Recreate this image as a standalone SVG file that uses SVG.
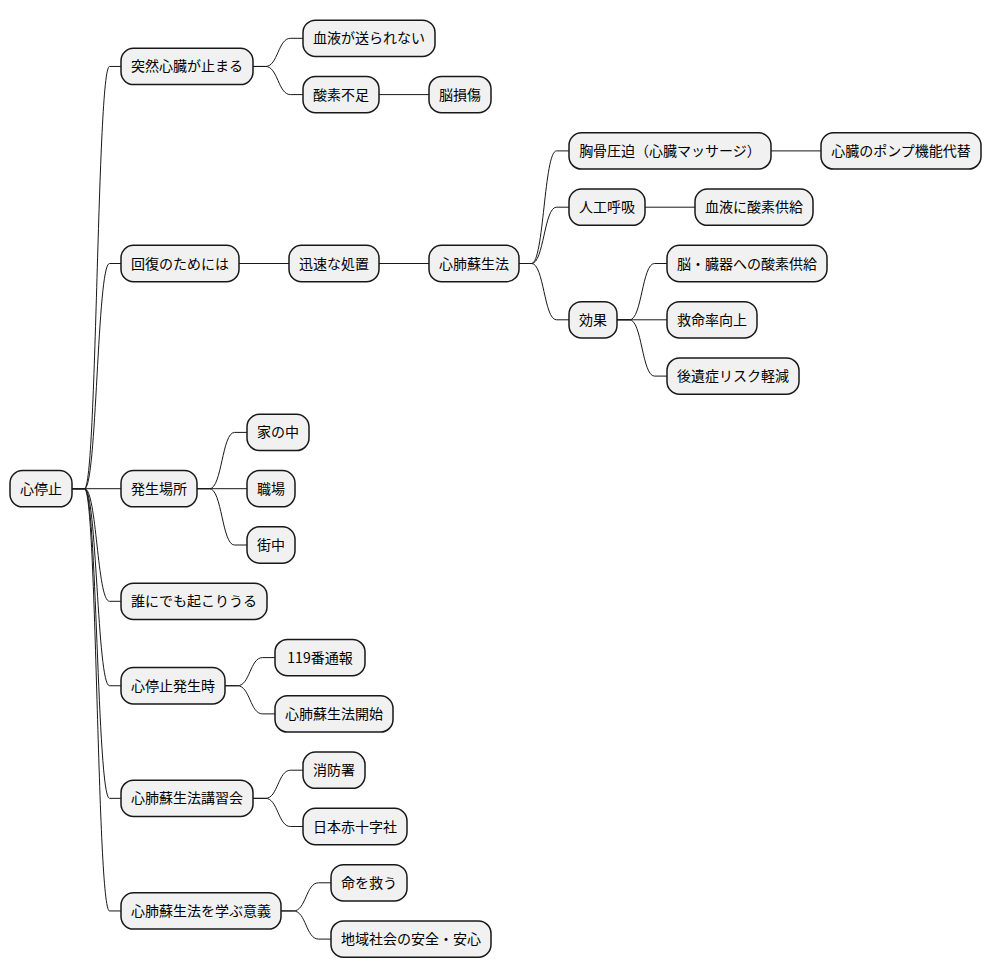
<svg xmlns="http://www.w3.org/2000/svg" width="992" height="978" viewBox="0 0 992 978">
<style>
.b{fill:#F1F1F1;stroke:#181818;stroke-width:1.5}
.t{font-family:"Noto Sans CJK JP","Noto Sans",sans-serif;font-size:14px;fill:#000;text-anchor:middle}
.c path{fill:none;stroke:#181818;stroke-width:1}
</style>
<rect width="992" height="978" fill="#FFFFFF"/>
<g class="c" id="connectors">
<path d="M72,488.7 L84.5,488.7 C97,488.7 97,66.45 109.5,66.45 L121,66.45"/>
<path d="M72,488.7 L84.5,488.7 C97,488.7 97,263.5 109.5,263.5 L121,263.5"/>
<path d="M72,488.7 L121,488.7"/>
<path d="M72,488.7 L84.5,488.7 C97,488.7 97,601.3 109.5,601.3 L121,601.3"/>
<path d="M72,488.7 L84.5,488.7 C97,488.7 97,685.75 109.5,685.75 L121,685.75"/>
<path d="M72,488.7 L84.5,488.7 C97,488.7 97,798.35 109.5,798.35 L121,798.35"/>
<path d="M72,488.7 L84.5,488.7 C97,488.7 97,910.95 109.5,910.95 L121,910.95"/>
<path d="M253,66.45 L265.5,66.45 C278,66.45 278,38.3 290.5,38.3 L303,38.3"/>
<path d="M253,66.45 L265.5,66.45 C278,66.45 278,94.6 290.5,94.6 L303,94.6"/>
<path d="M379,94.6 L429,94.6"/>
<path d="M239,263.5 L289,263.5"/>
<path d="M379,263.5 L429,263.5"/>
<path d="M519,263.5 L531.5,263.5 C544,263.5 544,150.9 556.5,150.9 L569,150.9"/>
<path d="M519,263.5 L531.5,263.5 C544,263.5 544,207.2 556.5,207.2 L569,207.2"/>
<path d="M519,263.5 L531.5,263.5 C544,263.5 544,319.8 556.5,319.8 L569,319.8"/>
<path d="M771,150.9 L821,150.9"/>
<path d="M645,207.2 L695,207.2"/>
<path d="M617,319.8 L629.5,319.8 C642,319.8 642,263.5 654.5,263.5 L667,263.5"/>
<path d="M617,319.8 L667,319.8"/>
<path d="M617,319.8 L629.5,319.8 C642,319.8 642,376.1 654.5,376.1 L667,376.1"/>
<path d="M197,488.7 L209.5,488.7 C222,488.7 222,432.4 234.5,432.4 L247,432.4"/>
<path d="M197,488.7 L247,488.7"/>
<path d="M197,488.7 L209.5,488.7 C222,488.7 222,545 234.5,545 L247,545"/>
<path d="M225,685.75 L237.5,685.75 C250,685.75 250,657.6 262.5,657.6 L275,657.6"/>
<path d="M225,685.75 L237.5,685.75 C250,685.75 250,713.9 262.5,713.9 L275,713.9"/>
<path d="M253,798.35 L265.5,798.35 C278,798.35 278,770.2 290.5,770.2 L303,770.2"/>
<path d="M253,798.35 L265.5,798.35 C278,798.35 278,826.5 290.5,826.5 L303,826.5"/>
<path d="M281,910.95 L293.5,910.95 C306,910.95 306,882.8 318.5,882.8 L331,882.8"/>
<path d="M281,910.95 L293.5,910.95 C306,910.95 306,939.1 318.5,939.1 L331,939.1"/>
</g>
<g id="n0"><rect class="b" x="10" y="470.55" width="62" height="36.3" rx="12.5"/><text class="t" x="41" y="493.7">心停止</text></g>
<g id="n1"><rect class="b" x="121" y="48.3" width="132" height="36.3" rx="12.5"/><text class="t" x="187" y="71.45">突然心臓が止まる</text></g>
<g id="n1a"><rect class="b" x="303" y="20.15" width="132" height="36.3" rx="12.5"/><text class="t" x="369" y="43.3">血液が送られない</text></g>
<g id="n1b"><rect class="b" x="303" y="76.45" width="76" height="36.3" rx="12.5"/><text class="t" x="341" y="99.6">酸素不足</text></g>
<g id="n1b1"><rect class="b" x="429" y="76.45" width="62" height="36.3" rx="12.5"/><text class="t" x="460" y="99.6">脳損傷</text></g>
<g id="n2"><rect class="b" x="121" y="245.35" width="118" height="36.3" rx="12.5"/><text class="t" x="180" y="268.5">回復のためには</text></g>
<g id="n2a"><rect class="b" x="289" y="245.35" width="90" height="36.3" rx="12.5"/><text class="t" x="334" y="268.5">迅速な処置</text></g>
<g id="n2a1"><rect class="b" x="429" y="245.35" width="90" height="36.3" rx="12.5"/><text class="t" x="474" y="268.5">心肺蘇生法</text></g>
<g id="n2a1a"><rect class="b" x="569" y="132.75" width="202" height="36.3" rx="12.5"/><text class="t" x="670" y="155.9">胸骨圧迫（心臓マッサージ）</text></g>
<g id="n2a1a1"><rect class="b" x="821" y="132.75" width="160" height="36.3" rx="12.5"/><text class="t" x="901" y="155.9">心臓のポンプ機能代替</text></g>
<g id="n2a1b"><rect class="b" x="569" y="189.05" width="76" height="36.3" rx="12.5"/><text class="t" x="607" y="212.2">人工呼吸</text></g>
<g id="n2a1b1"><rect class="b" x="695" y="189.05" width="118" height="36.3" rx="12.5"/><text class="t" x="754" y="212.2">血液に酸素供給</text></g>
<g id="n2a1c"><rect class="b" x="569" y="301.65" width="48" height="36.3" rx="12.5"/><text class="t" x="593" y="324.8">効果</text></g>
<g id="n2a1c1"><rect class="b" x="667" y="245.35" width="160" height="36.3" rx="12.5"/><text class="t" x="747" y="268.5">脳・臓器への酸素供給</text></g>
<g id="n2a1c2"><rect class="b" x="667" y="301.65" width="90" height="36.3" rx="12.5"/><text class="t" x="712" y="324.8">救命率向上</text></g>
<g id="n2a1c3"><rect class="b" x="667" y="357.95" width="132" height="36.3" rx="12.5"/><text class="t" x="733" y="381.1">後遺症リスク軽減</text></g>
<g id="n3"><rect class="b" x="121" y="470.55" width="76" height="36.3" rx="12.5"/><text class="t" x="159" y="493.7">発生場所</text></g>
<g id="n3a"><rect class="b" x="247" y="414.25" width="62" height="36.3" rx="12.5"/><text class="t" x="278" y="437.4">家の中</text></g>
<g id="n3b"><rect class="b" x="247" y="470.55" width="48" height="36.3" rx="12.5"/><text class="t" x="271" y="493.7">職場</text></g>
<g id="n3c"><rect class="b" x="247" y="526.85" width="48" height="36.3" rx="12.5"/><text class="t" x="271" y="550">街中</text></g>
<g id="n4"><rect class="b" x="121" y="583.15" width="146" height="36.3" rx="12.5"/><text class="t" x="194" y="606.3">誰にでも起こりうる</text></g>
<g id="n5"><rect class="b" x="121" y="667.6" width="104" height="36.3" rx="12.5"/><text class="t" x="173" y="690.75">心停止発生時</text></g>
<g id="n5a"><rect class="b" x="275" y="639.45" width="90" height="36.3" rx="12.5"/><text class="t" x="320" y="662.6">119番通報</text></g>
<g id="n5b"><rect class="b" x="275" y="695.75" width="118" height="36.3" rx="12.5"/><text class="t" x="334" y="718.9">心肺蘇生法開始</text></g>
<g id="n6"><rect class="b" x="121" y="780.2" width="132" height="36.3" rx="12.5"/><text class="t" x="187" y="803.35">心肺蘇生法講習会</text></g>
<g id="n6a"><rect class="b" x="303" y="752.05" width="62" height="36.3" rx="12.5"/><text class="t" x="334" y="775.2">消防署</text></g>
<g id="n6b"><rect class="b" x="303" y="808.35" width="104" height="36.3" rx="12.5"/><text class="t" x="355" y="831.5">日本赤十字社</text></g>
<g id="n7"><rect class="b" x="121" y="892.8" width="160" height="36.3" rx="12.5"/><text class="t" x="201" y="915.95">心肺蘇生法を学ぶ意義</text></g>
<g id="n7a"><rect class="b" x="331" y="864.65" width="76" height="36.3" rx="12.5"/><text class="t" x="369" y="887.8">命を救う</text></g>
<g id="n7b"><rect class="b" x="331" y="920.95" width="160" height="36.3" rx="12.5"/><text class="t" x="411" y="944.1">地域社会の安全・安心</text></g>
</svg>
